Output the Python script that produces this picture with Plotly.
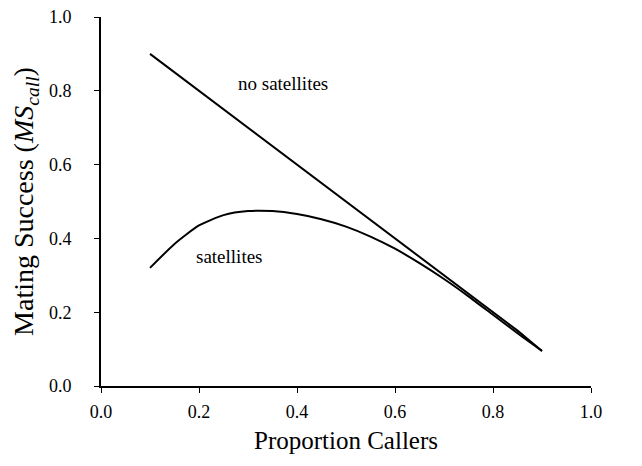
import plotly.graph_objects as go

x_vals = [0.1, 0.15, 0.2, 0.25, 0.3, 0.35, 0.4, 0.45, 0.5, 0.55, 0.6, 0.65, 0.7, 0.75, 0.8, 0.85, 0.9]
no_satellites = [0.9, 0.85, 0.8, 0.75, 0.7, 0.65, 0.6, 0.55, 0.5, 0.45, 0.4, 0.35, 0.3, 0.25, 0.2, 0.15, 0.095]
satellites = [0.32, 0.385, 0.435, 0.463, 0.474, 0.474, 0.466, 0.452, 0.432, 0.405, 0.372, 0.333, 0.29, 0.243, 0.193, 0.143, 0.095]
tick_vals = [0.0, 0.2, 0.4, 0.6, 0.8, 1.0]
tick_text = ["0.0", "0.2", "0.4", "0.6", "0.8", "1.0"]

font = "Liberation Serif"

fig = go.Figure()
fig.add_trace(go.Scatter(x=x_vals, y=no_satellites, mode="lines",
                         line=dict(color="black", width=2), showlegend=False))
fig.add_trace(go.Scatter(x=x_vals, y=satellites, mode="lines", line_shape="spline",
                         line=dict(color="black", width=2, smoothing=0.6), showlegend=False))

fig.add_annotation(x=0.371, y=0.82, text="no satellites", showarrow=False,
                   font=dict(family=font, size=19, color="black"))
fig.add_annotation(x=0.262, y=0.35, text="satellites", showarrow=False,
                   font=dict(family=font, size=19, color="black"))

fig.update_layout(
    width=634, height=458,
    margin=dict(l=93, r=51, t=9, b=80),
    paper_bgcolor="white", plot_bgcolor="white",
    font=dict(family=font, color="black"),
    xaxis=dict(range=[0, 1], tickvals=tick_vals, ticktext=tick_text, automargin=False,
               showgrid=False, zeroline=False, showline=True, linecolor="black",
               linewidth=2, ticks="outside", ticklen=5, tickwidth=1, tickcolor="black",
               ticklabeloverflow="allow",
               tickfont=dict(family=font, size=18, color="black"), ticklabelstandoff=3,
               title=dict(text="Proportion Callers", font=dict(family=font, size=25, color="black"), standoff=11)),
    yaxis=dict(range=[0, 1], tickvals=tick_vals, ticktext=tick_text, automargin=False,
               showgrid=False, zeroline=False, showline=True, linecolor="black",
               linewidth=2, ticks="outside", ticklen=5, tickwidth=1, tickcolor="black",
               ticklabeloverflow="allow",
               tickfont=dict(family=font, size=18, color="black"), ticklabelstandoff=19,
               title=dict(text="Mating Success (<i>MS<sub>call</sub></i>)",
                          font=dict(family=font, size=28, color="black"), standoff=10)),
)

fig.write_html("out.html")
